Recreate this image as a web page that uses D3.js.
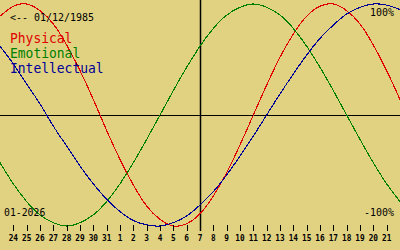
<!DOCTYPE html>
<html>
<head>
<meta charset="utf-8">
<script src="https://cdn.jsdelivr.net/npm/d3@7/dist/d3.min.js"></script>
<style>
  html, body { margin: 0; padding: 0; background: #E1D282; }
  svg { display: block; }
</style>
</head>
<body>
<div id="chart"></div>
<script>
// Biorhythm chart, 23 Dec 2025 .. 22 Jan 2026, centre day 7 Jan
const W = 400, H = 250;

// one sample per day, index 0 = 23 Dec (off the left edge), 30 = 22 Jan
const physical = [0.89, 0.98, 1.00, 0.94, 0.82, 0.63, 0.40, 0.14, -0.14, -0.40,
  -0.63, -0.82, -0.94, -1.00, -0.98, -0.89, -0.73, -0.52, -0.27, 0.00,
  0.27, 0.52, 0.73, 0.89, 0.98, 1.00, 0.94, 0.82, 0.63, 0.40, 0.14];
const emotional = [-0.43, -0.62, -0.78, -0.90, -0.97, -1.00, -0.97, -0.90, -0.78, -0.62,
  -0.43, -0.22, 0.00, 0.22, 0.43, 0.62, 0.78, 0.90, 0.97, 1.00,
  0.97, 0.90, 0.78, 0.62, 0.43, 0.22, 0.00, -0.22, -0.43, -0.62, -0.78];
const intellectual = [0.62, 0.46, 0.28, 0.10, -0.10, -0.28, -0.46, -0.62, -0.76, -0.87,
  -0.95, -0.99, -1.00, -0.97, -0.91, -0.81, -0.69, -0.54, -0.37, -0.19,
  0.00, 0.19, 0.37, 0.54, 0.69, 0.81, 0.91, 0.97, 1.00, 0.99, 0.95];

// tick labels, index 1..29
const dayLabels = [24, 25, 26, 27, 28, 29, 30, 31, 1, 2, 3, 4, 5, 6, 7,
  8, 9, 10, 11, 12, 13, 14, 15, 16, 17, 18, 19, 20, 21];

const seriesNames = ['Physical', 'Emotional', 'Intellectual'];
const seriesColors = ['#E00000', '#008000', '#000098'];
const birthLabel = '<-- 01/12/1985';
const monthLabel = '01-2026';
const todayIndex = 15;

const FONT = '"DejaVu Sans Mono", "Liberation Mono", monospace';

const x = d3.scaleLinear().domain([0, 30]).range([0, W]);
const y = d3.scaleLinear().domain([-1, 1]).range([226, 4]);

const svg = d3.select('#chart').append('svg')
  .attr('width', W)
  .attr('height', H);

svg.append('rect').attr('width', W).attr('height', H).attr('fill', '#E1D282');

// zero line and today line
svg.append('line')
  .attr('x1', 0).attr('x2', W)
  .attr('y1', Math.round(y(0)) + 0.5).attr('y2', Math.round(y(0)) + 0.5)
  .attr('stroke', '#000').attr('stroke-width', 1);
svg.append('line')
  .attr('x1', Math.round(x(todayIndex)) + 0.5).attr('x2', Math.round(x(todayIndex)) + 0.5)
  .attr('y1', 0).attr('y2', 231)
  .attr('stroke', '#000').attr('stroke-width', 1.5);

// curves (aliased, like the original)
const line = d3.line()
  .x(function(d, i) { return x(i); })
  .y(function(d) { return y(d); })
  .curve(d3.curveNatural);

[physical, emotional, intellectual].forEach(function(vals, i) {
  svg.append('path')
    .attr('d', line(vals))
    .attr('fill', 'none')
    .attr('stroke', seriesColors[i])
    .attr('stroke-width', 1.1)
    .attr('shape-rendering', 'crispEdges');
});

// day ticks
const tickG = svg.append('g');
dayLabels.forEach(function(lab, i) {
  const tx = Math.round(x(i + 1)) + 0.5;
  tickG.append('line')
    .attr('x1', tx).attr('x2', tx)
    .attr('y1', 225).attr('y2', 231)
    .attr('stroke', '#000').attr('stroke-width', 1);
  const s = String(lab);
  tickG.append('text')
    .attr('x', x(i + 1))
    .attr('y', 241)
    .attr('text-anchor', 'middle')
    .attr('font-family', FONT)
    .attr('font-weight', 'bold')
    .attr('font-size', 9.5)
    .attr('textLength', s.length * 4.7)
    .attr('lengthAdjust', 'spacingAndGlyphs')
    .attr('fill', '#000')
    .text(s);
});

function label(txt, lx, ly, size, adv, color, anchor) {
  svg.append('text')
    .attr('x', lx).attr('y', ly)
    .attr('text-anchor', anchor || 'start')
    .attr('font-family', FONT)
    .attr('font-size', size)
    .attr('textLength', txt.length * adv)
    .attr('lengthAdjust', 'spacingAndGlyphs')
    .attr('fill', color)
    .text(txt);
}

label(birthLabel, 10, 21, 11, 6, '#000');
seriesNames.forEach(function(n, i) {
  label(n, 10, 43 + i * 15, 14, 7.8, seriesColors[i]);
});
label(monthLabel, 4, 216, 10.5, 5.9, '#000');
label('100%', 394, 16, 11, 6, '#000', 'end');
label('-100%', 394, 216, 11, 6, '#000', 'end');
</script>
</body>
</html>
